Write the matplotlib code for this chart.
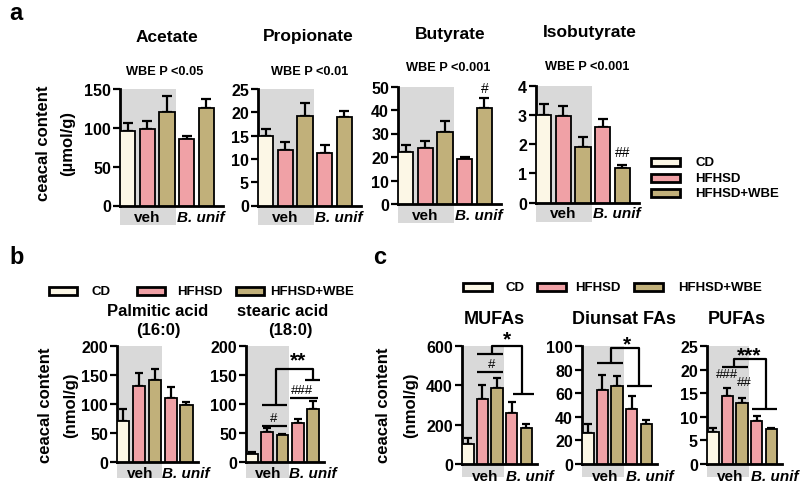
import matplotlib
matplotlib.use("Agg")
import matplotlib.pyplot as plt
import numpy as np
from matplotlib.patches import Rectangle

plt.rcParams['font.family'] = ['Liberation Sans', 'DejaVu Sans']
plt.rcParams['font.weight'] = 'bold'

# ---------------- data ----------------
legend_labels = ["CD", "HFHSD", "HFHSD+WBE"]
group_labels = ["veh", "B. unif"]

acetate_mean = [96.5, 98.5, 121, 85, 126]
acetate_sem = [9.5, 10.5, 19.5, 5, 11]
propionate_mean = [15.0, 12.0, 19.1, 11.3, 18.9]
propionate_sem = [1.4, 1.6, 2.8, 1.6, 1.3]
butyrate_mean = [22.2, 23.8, 30.7, 19.1, 40.8]
butyrate_sem = [3.0, 2.8, 4.7, 1.0, 4.1]
isobutyrate_mean = [3.0, 2.97, 1.91, 2.59, 1.18]
isobutyrate_sem = [0.37, 0.34, 0.35, 0.27, 0.10]

palmitic_mean = [70, 131, 141, 111, 98]
palmitic_sem = [21, 22, 19, 19, 6]
stearic_mean = [14, 51, 46.5, 66.5, 91]
stearic_sem = [4, 7, 2.5, 7.5, 15]

mufa_mean = [101, 333, 384, 260, 181]
mufa_sem = [29, 67, 55, 53, 22]
diunsat_mean = [26, 63, 66, 47, 34]
diunsat_sem = [8, 12.5, 9, 11, 3.5]
pufa_mean = [6.7, 14.4, 13.0, 9.15, 7.4]
pufa_sem = [1.0, 1.6, 0.9, 1.05, 0.2]

wbe_p_labels = ["WBE P <0.05", "WBE P <0.01", "WBE P <0.001", "WBE P <0.001"]

# ---------------- style ----------------
W, H = 800, 485
fig = plt.figure(figsize=(8, 4.85), dpi=100)
fill = ['#fcf7e6', '#f0a1a6', '#c1b07a']
bar_colors = [fill[0], fill[1], fill[2], fill[1], fill[2]]
gray = '#d9d9d9'


def add_ax(left, top, right, bottom):
    return fig.add_axes([left / W, 1 - bottom / H, (right - left) / W, (bottom - top) / H])


def fx(px):
    return px / W


def fy(py):
    return 1 - py / H


def draw(ax, means, sems, ymax, yticks, xmax, below_px, veh_px, veh_x, unif_x,
         tick_fs=11.5, cap=3.2, lab_fs=11):
    h_px = ax.get_position().height * H
    x = np.arange(len(means))
    ax.axvspan(-0.4, 2.45, ymin=-below_px / h_px, ymax=1, facecolor=gray,
               edgecolor='none', zorder=0, clip_on=False)
    ax.bar(x, means, width=0.78, color=bar_colors, edgecolor='black',
           linewidth=1.3, zorder=3)
    ax.errorbar(x, means, yerr=[np.zeros(len(means)), sems], fmt='none',
                ecolor='black', elinewidth=1.6, capsize=cap, capthick=1.6, zorder=2)
    ax.set_xlim(-0.4, xmax)
    ax.set_ylim(0, ymax)
    ax.set_yticks(yticks)
    ax.set_xticks([])
    for s in ['top', 'right']:
        ax.spines[s].set_visible(False)
    for s in ['left', 'bottom']:
        ax.spines[s].set_linewidth(2.0)
    ax.tick_params(axis='y', direction='out', length=5, width=1.6, pad=1.5,
                   labelsize=tick_fs)
    for t in ax.get_yticklabels():
        t.set_fontweight('bold')
    ax.patch.set_alpha(0)
    tr = ax.get_xaxis_transform()
    ax.text(veh_x, -veh_px / h_px, group_labels[0], transform=tr, ha='center',
            va='center', fontsize=lab_fs, fontweight='bold')
    ax.text(unif_x, -veh_px / h_px, group_labels[1], transform=tr, ha='center',
            va='center', fontsize=lab_fs, fontweight='bold', style='italic')


def seg(ax, xs, ys):
    ax.plot(xs, ys, color='black', lw=1.6, clip_on=False, zorder=5,
            solid_capstyle='butt')


# ---------------- panel a ----------------
ax_ac = add_ax(120, 90, 223, 206.5)
ax_pr = add_ax(258, 90, 361, 206.5)
ax_bu = add_ax(398, 87.5, 501, 205)
ax_ib = add_ax(536, 87, 639, 203.5)

for ax, m, s, ymax, ticks in [
        (ax_ac, acetate_mean, acetate_sem, 150, [0, 50, 100, 150]),
        (ax_pr, propionate_mean, propionate_sem, 25, [0, 5, 10, 15, 20, 25]),
        (ax_bu, butyrate_mean, butyrate_sem, 50, [0, 10, 20, 30, 40, 50]),
        (ax_ib, isobutyrate_mean, isobutyrate_sem, 4, [0, 1, 2, 3, 4])]:
    draw(ax, m, s, ymax, ticks, 4.85, 19, 11, 1.0, 3.7, cap=3.5)

ax_bu.text(4, butyrate_mean[4] + butyrate_sem[4] + 1.5, '#', ha='center', va='bottom',
           fontsize=10, fontweight='normal')
ax_ib.text(4, isobutyrate_mean[4] + isobutyrate_sem[4] + 0.22, '##', ha='center',
           va='bottom', fontsize=10, fontweight='normal')

titles_a = ["Acetate", "Propionate", "Butyrate", "Isobutyrate"]
title_x = [167, 308, 450, 590]
title_y = [37, 37, 34, 33]
p_x = [165, 310, 448, 587]
p_y = [72, 72, 68, 67]
for t, xx, yy in zip(titles_a, title_x, title_y):
    fig.text(fx(xx), fy(yy), t, ha='center', va='center', fontsize=12.5, fontweight='bold')
for t, xx, yy in zip(wbe_p_labels, p_x, p_y):
    fig.text(fx(xx), fy(yy), t, ha='center', va='center', fontsize=9.2, fontweight='bold')

fig.text(fx(16), fy(13), 'a', ha='center', va='center', fontsize=17, fontweight='bold')
fig.text(fx(43), fy(143), 'ceacal content', rotation=90, ha='center', va='center',
         fontsize=12, fontweight='bold')
fig.text(fx(68), fy(143), '(\u00b5mol/g)', rotation=90, ha='center', va='center',
         fontsize=12, fontweight='bold')

# legend a
for i, lab in enumerate(legend_labels):
    yc = [163, 179, 194][i]
    fig.add_artist(Rectangle((fx(651), fy(yc + 3.8)), 29 / W, 7.6 / H, transform=fig.transFigure,
                             facecolor=fill[i], edgecolor='black', linewidth=2.0))
    fig.text(fx(695), fy(yc), lab, ha='left', va='center', fontsize=9.5, fontweight='bold')

# ---------------- panel b ----------------
ax_pa = add_ax(117, 347, 197.5, 463)
ax_st = add_ax(246, 347, 323.5, 463)
draw(ax_pa, palmitic_mean, palmitic_sem, 200, [0, 50, 100, 150, 200], 4.7, 16, 11, 1.04, 3.96, cap=3)
draw(ax_st, stearic_mean, stearic_sem, 200, [0, 50, 100, 150, 200], 4.7, 16, 11, 1.04, 4.0, cap=3)

seg(ax_st, [0.67, 2.33], [62, 62])
ax_st.text(1.45, 66, '#', ha='center', va='bottom', fontsize=9.5, fontweight='normal')
seg(ax_st, [0.67, 2.33], [98, 98])
seg(ax_st, [1.6, 1.6, 4.0, 4.0], [98, 160, 160, 141])
seg(ax_st, [3.5, 4.5], [141, 141])
seg(ax_st, [2.5, 4.35], [110, 110])
ax_st.text(3.3, 113, '###', ha='center', va='bottom', fontsize=9.5, fontweight='normal')
ax_st.text(3.0, 159, '**', ha='center', va='bottom', fontsize=15, fontweight='bold')

fig.text(fx(158), fy(312), 'Palmitic acid', ha='center', va='center', fontsize=12, fontweight='bold')
fig.text(fx(158), fy(331), '(16:0)', ha='center', va='center', fontsize=12, fontweight='bold')
fig.text(fx(283), fy(312), 'stearic acid', ha='center', va='center', fontsize=12, fontweight='bold')
fig.text(fx(290), fy(331), '(18:0)', ha='center', va='center', fontsize=12, fontweight='bold')

fig.text(fx(17), fy(257), 'b', ha='center', va='center', fontsize=17, fontweight='bold')
fig.text(fx(46), fy(405), 'ceacal content', rotation=90, ha='center', va='center',
         fontsize=12, fontweight='bold')
fig.text(fx(71), fy(405), '(nmol/g)', rotation=90, ha='center', va='center',
         fontsize=12, fontweight='bold')

box_b = [49, 137, 236]
txt_b = [92, 177, 270]
for i, lab in enumerate(legend_labels):
    fig.add_artist(Rectangle((fx(box_b[i]), fy(292 + 4)), 28 / W, 8 / H, transform=fig.transFigure,
                             facecolor=fill[i], edgecolor='black', linewidth=2.0))
    fig.text(fx(txt_b[i]), fy(292), lab, ha='left', va='center', fontsize=9.5, fontweight='bold')

# ---------------- panel c ----------------
ax_mu = add_ax(462, 347, 536.5, 465)
ax_di = add_ax(582, 347, 656.5, 465)
ax_pu = add_ax(707, 347, 781.5, 465)
draw(ax_mu, mufa_mean, mufa_sem, 600, [0, 200, 400, 600], 4.7, 13, 12, 1.2, 4.25, cap=2.8)
draw(ax_di, diunsat_mean, diunsat_sem, 100, [0, 20, 40, 60, 80, 100], 4.7, 13, 12, 1.2, 4.25, cap=2.8)
draw(ax_pu, pufa_mean, pufa_sem, 25, [0, 5, 10, 15, 20, 25], 4.7, 13, 12, 1.2, 4.25, cap=2.8)

# MUFAs
seg(ax_mu, [0.65, 2.43], [467, 467])
ax_mu.text(1.6, 476, '#', ha='center', va='bottom', fontsize=9.5, fontweight='normal')
seg(ax_mu, [0.65, 2.43], [558, 558])
seg(ax_mu, [1.68, 1.68, 3.73, 3.73], [558, 600, 600, 355])
seg(ax_mu, [3.1, 4.5], [355, 355])
ax_mu.text(2.7, 590, '*', ha='center', va='bottom', fontsize=15, fontweight='bold')

# Diunsat
seg(ax_di, [0.64, 2.38], [86, 86])
seg(ax_di, [1.58, 1.58, 3.5, 3.5], [86, 98, 98, 66])
seg(ax_di, [2.65, 4.4], [66, 66])
ax_di.text(2.65, 94, '*', ha='center', va='bottom', fontsize=15, fontweight='bold')

# PUFAs
seg(ax_pu, [0.6, 2.4], [20.5, 20.5])
seg(ax_pu, [1.47, 1.47, 3.66, 3.66], [20.5, 22.2, 22.2, 11.6])
seg(ax_pu, [2.7, 4.4], [11.6, 11.6])
ax_pu.text(2.5, 21.0, '***', ha='center', va='bottom', fontsize=15, fontweight='bold')
ax_pu.text(1.0, 19.1, '###', ha='center', va='center', fontsize=9.5, fontweight='normal')
ax_pu.text(2.15, 17.4, '##', ha='center', va='center', fontsize=9.5, fontweight='normal')

fig.text(fx(494), fy(320), 'MUFAs', ha='center', va='center', fontsize=13, fontweight='bold')
fig.text(fx(624), fy(320), 'Diunsat FAs', ha='center', va='center', fontsize=13, fontweight='bold')
fig.text(fx(737), fy(320), 'PUFAs', ha='center', va='center', fontsize=13, fontweight='bold')

fig.text(fx(380), fy(257), 'c', ha='center', va='center', fontsize=17, fontweight='bold')
fig.text(fx(384), fy(405), 'ceacal content', rotation=90, ha='center', va='center',
         fontsize=12, fontweight='bold')
fig.text(fx(411), fy(405), '(nmol/g)', rotation=90, ha='center', va='center',
         fontsize=12, fontweight='bold')

box_c = [463, 537, 634]
txt_c = [506, 575, 678]
for i, lab in enumerate(legend_labels):
    fig.add_artist(Rectangle((fx(box_c[i]), fy(288 + 4)), 29 / W, 8 / H, transform=fig.transFigure,
                             facecolor=fill[i], edgecolor='black', linewidth=2.0))
    fig.text(fx(txt_c[i]), fy(288), lab, ha='left', va='center', fontsize=9.5, fontweight='bold')

fig.savefig('out.png', dpi=100)
